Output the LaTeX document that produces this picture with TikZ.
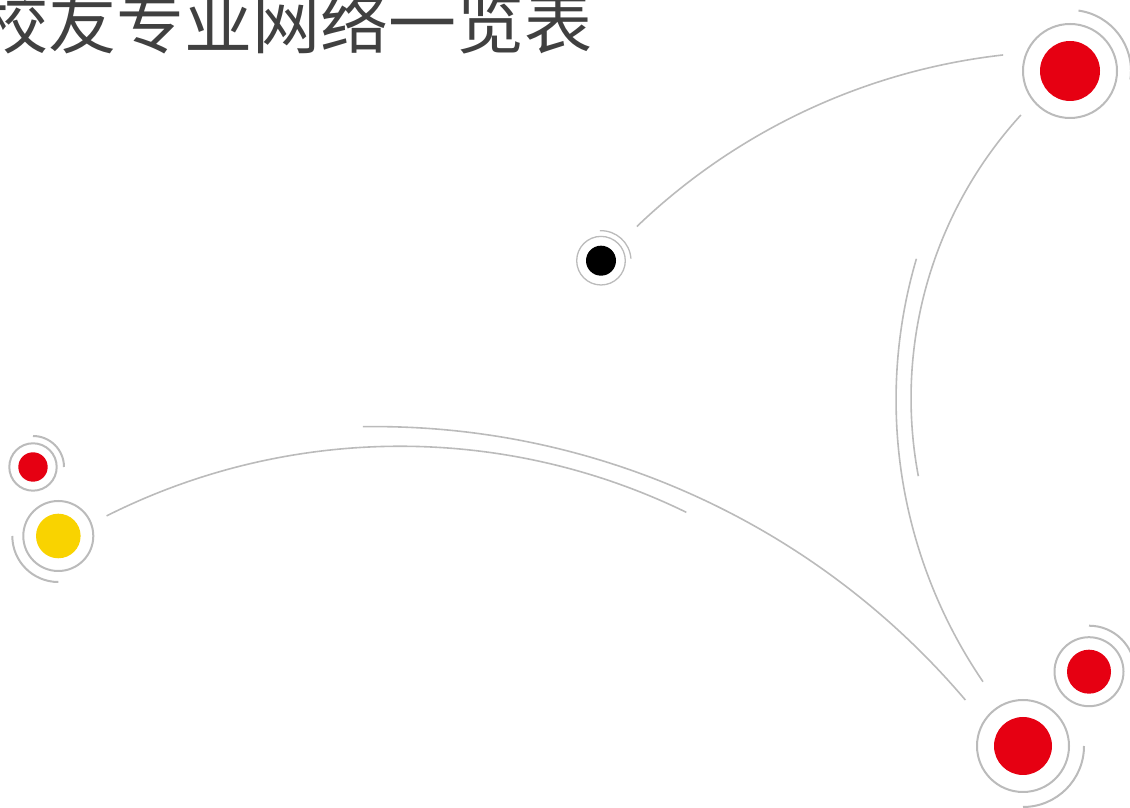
\documentclass[tikz,border=0pt]{standalone}
\usepackage{fontspec}
\newfontfamily\cjk{Noto Sans CJK SC}
\usepackage{tikz}
\definecolor{dotRed}{RGB}{230,0,18}
\definecolor{dotYellow}{RGB}{249,211,0}
\definecolor{ringGray}{RGB}{187,187,187}
\definecolor{titleGray}{RGB}{64,64,64}
\newcommand{\ringWidth}{2pt}
\newcommand{\linkWidth}{1.6pt}

\begin{document}
\begin{tikzpicture}[x=1pt, y=1pt,
		dot/.style={circle, inner sep=0pt, outer sep=0pt},
		ring/.style={draw=ringGray, line width=\ringWidth},
		halo/.style={draw=ringGray, line width=\ringWidth},
		link/.style={draw=ringGray, line width=\linkWidth}]
		\path[use as bounding box, clip] (0,0) rectangle (1130,808);
		% title
		\node[anchor=base west, inner sep=0pt, text=titleGray, font=\cjk\fontsize{68}{68}\selectfont] (title) at (-20,759) {校友专业网络一览表};
		% alumni dots
		\node[dot, fill=dotRed, minimum size=60pt] (topRed) at (1070,737) {};
		\draw[ring] (topRed.center) circle[radius=47];
		\draw[halo] (topRed.center) ++(82:61) arc[start angle=82, end angle=-8, radius=61];
		\node[dot, fill=black, minimum size=30pt] (midBlack) at (601,547.3) {};
		\draw[ring, line width=1.3pt] (midBlack.center) circle[radius=24.3];
		\draw[halo, line width=1.3pt] (midBlack.center) ++(92:30) arc[start angle=92, end angle=4, radius=30];
		\node[dot, fill=dotRed, minimum size=29.4pt] (leftRed) at (33,341) {};
		\draw[ring] (leftRed.center) circle[radius=23.7];
		\draw[halo] (leftRed.center) ++(90:31) arc[start angle=90, end angle=0, radius=31];
		\node[dot, fill=dotYellow, minimum size=44.6pt] (leftYellow) at (58.3,272) {};
		\draw[ring] (leftYellow.center) circle[radius=35];
		\draw[halo] (leftYellow.center) ++(180:46) arc[start angle=180, end angle=270, radius=46];
		\node[dot, fill=dotRed, minimum size=58pt] (bottomRed) at (1023,62) {};
		\draw[ring] (bottomRed.center) circle[radius=46];
		\draw[halo] (bottomRed.center) ++(0:61) arc[start angle=0, end angle=-90, radius=61];
		\node[dot, fill=dotRed, minimum size=44pt] (sideRed) at (1089,136.3) {};
		\draw[ring] (sideRed.center) circle[radius=34.5];
		\draw[halo] (sideRed.center) ++(90:46) arc[start angle=90, end angle=0, radius=46];
		% links
		\coordinate (blackTail) at (636.9,581.5);
		\draw[link] (blackTail) arc[start angle=133.8, end angle=96.4, radius=630.6];
		\coordinate (topTail) at (1020.9,693);
		\draw[link] (topTail) arc[start angle=137.6, end angle=190.7, radius=420];
		\coordinate (bottomTail) at (916.4,549.2);
		\draw[link] (bottomTail) arc[start angle=163.6, end angle=214.3, radius=500];
		\coordinate (yellowTail) at (106.6,292.1);
		\draw[link] (yellowTail) arc[start angle=116.7, end angle=64, radius=653.1];
		\coordinate (crossTail) at (362.9,381.3);
		\draw[link] (crossTail) arc[start angle=90.9, end angle=40.3, radius=774.1];
	\end{tikzpicture}
\end{document}
